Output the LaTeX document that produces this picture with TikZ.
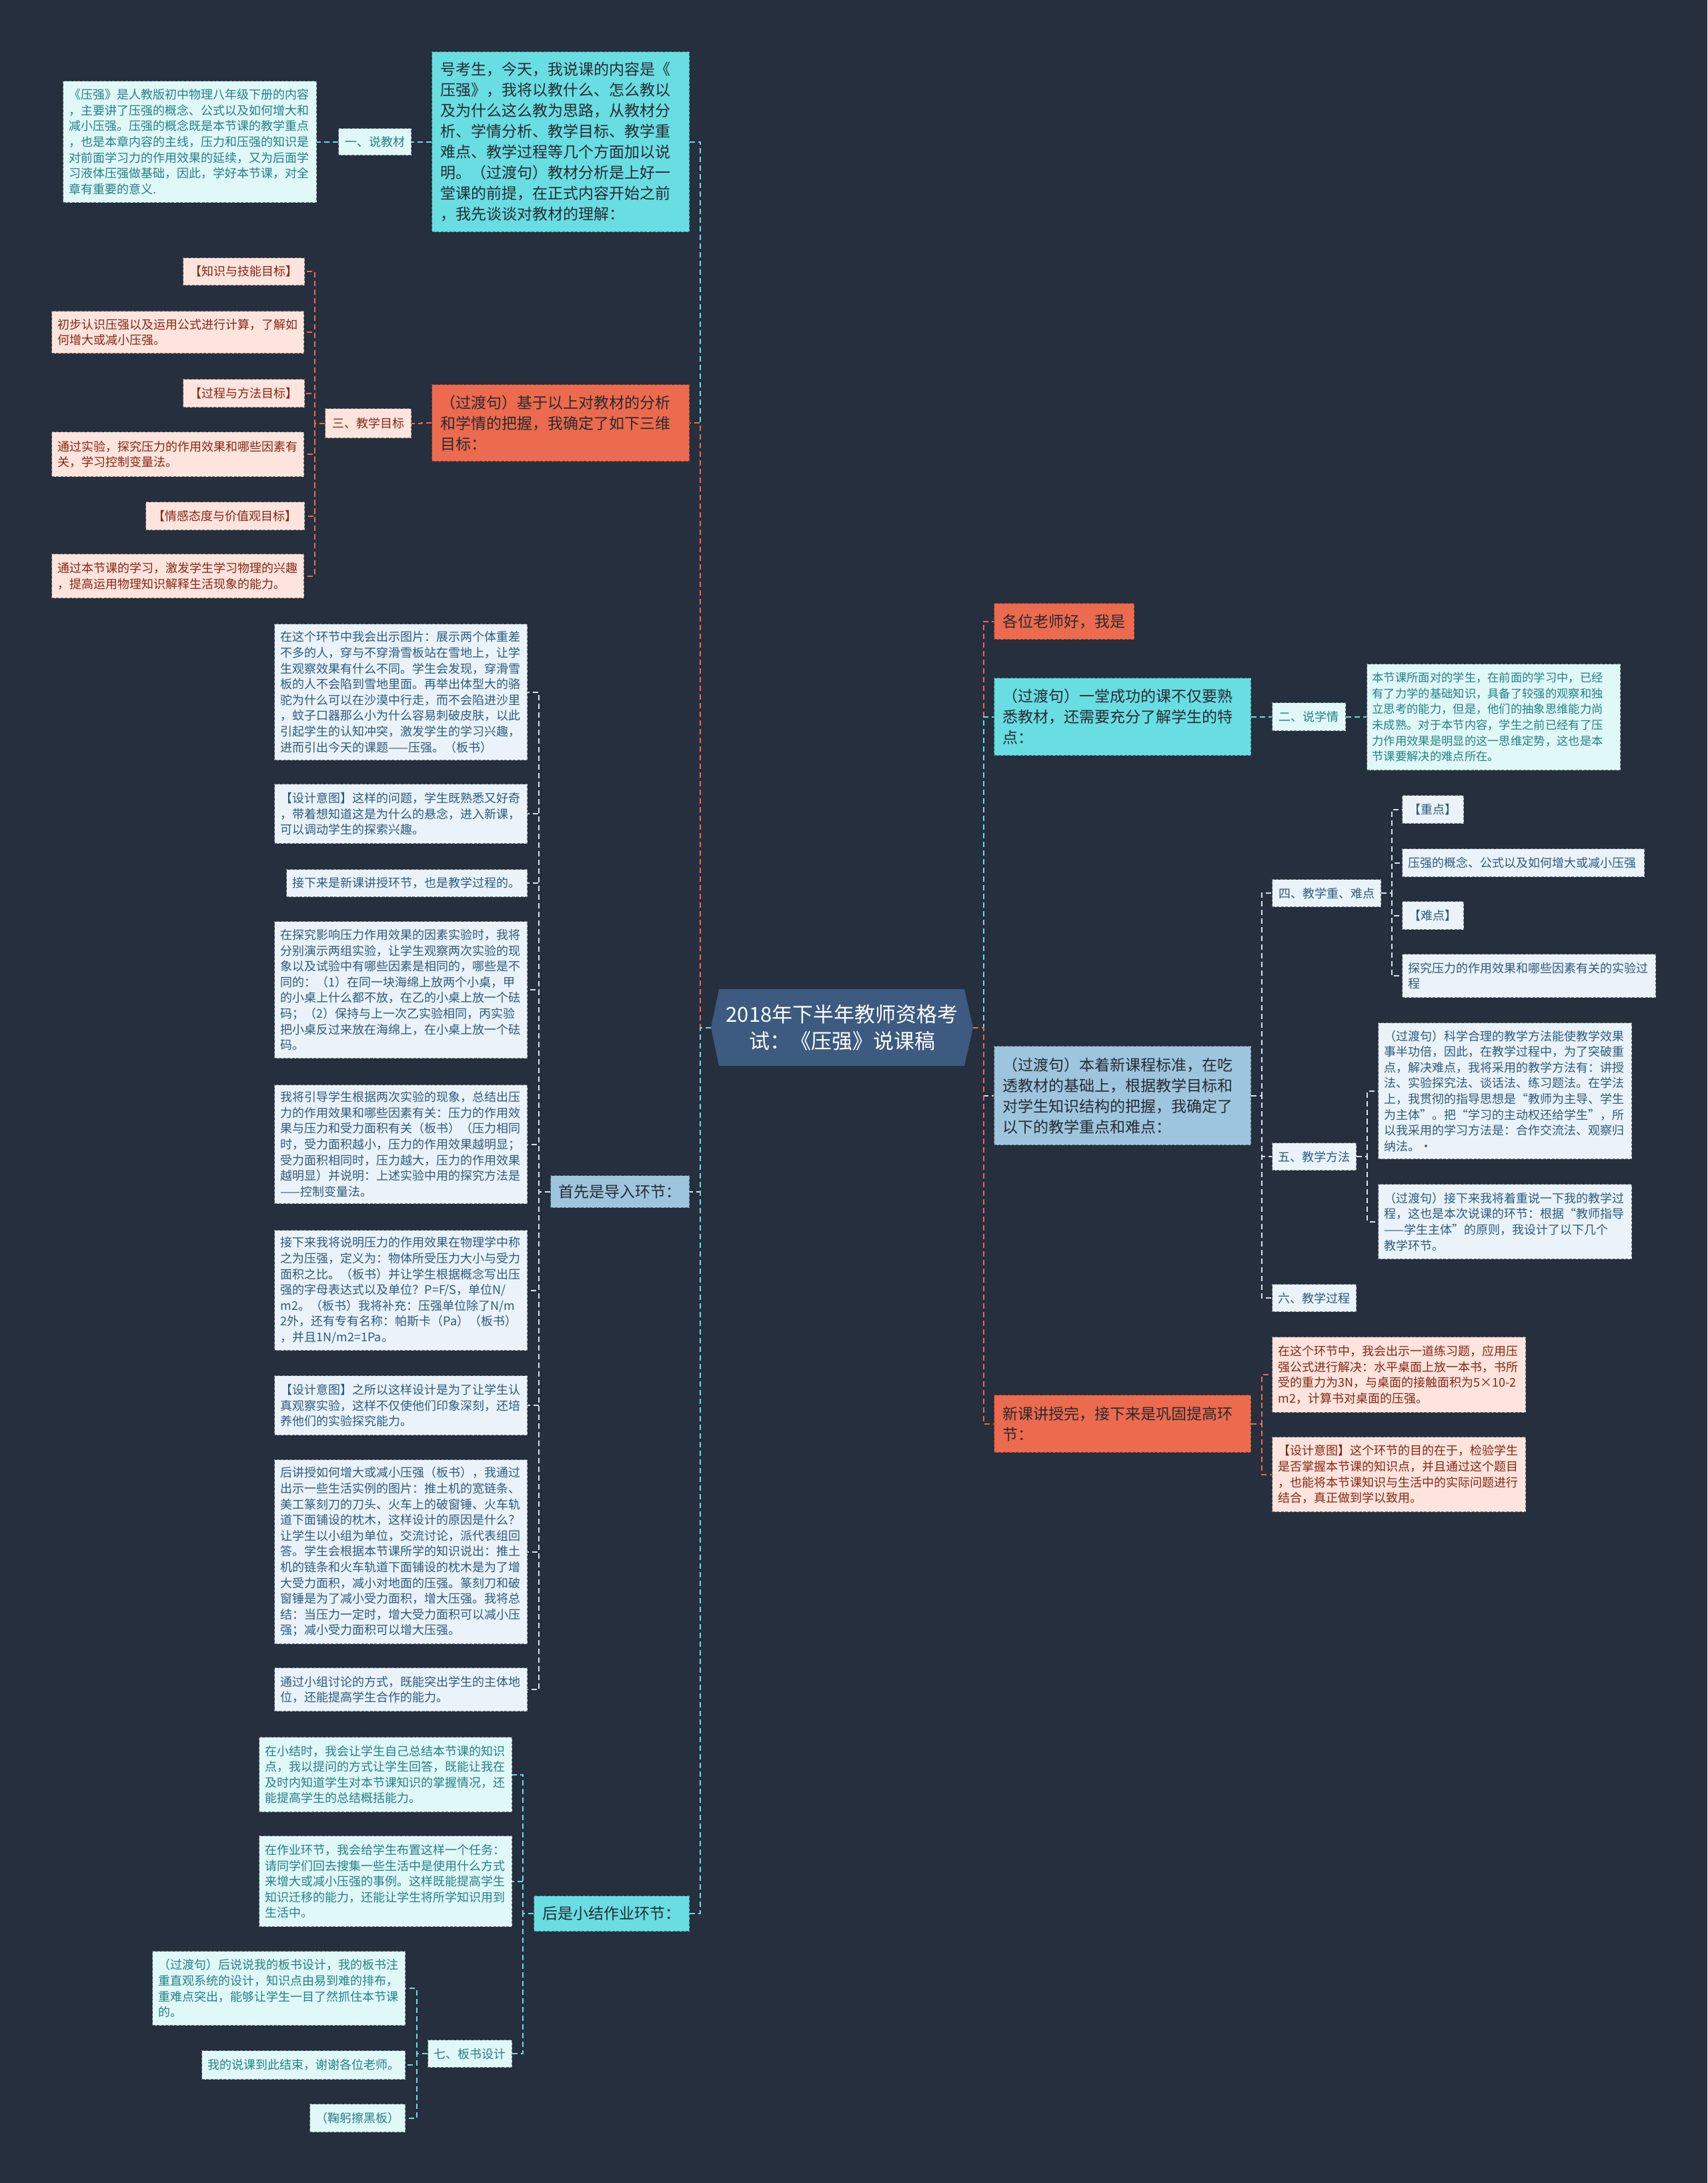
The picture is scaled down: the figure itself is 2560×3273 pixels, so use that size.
\documentclass[tikz,border=0pt]{standalone}
\usepackage{fontspec}
\setmainfont{Noto Sans CJK SC}
\usetikzlibrary{calc}
\definecolor{bg}{RGB}{38,47,62}
\definecolor{titleF}{RGB}{61,90,128}
\definecolor{cM}{RGB}{104,221,226}
\definecolor{cL}{RGB}{224,248,248}
\definecolor{cT}{RGB}{36,128,134}
\definecolor{oM}{RGB}{236,106,77}
\definecolor{pL}{RGB}{253,228,220}
\definecolor{pT}{RGB}{135,38,20}
\definecolor{bM}{RGB}{158,197,222}
\definecolor{bL}{RGB}{234,243,249}
\definecolor{bT}{RGB}{45,90,128}
\definecolor{dT}{RGB}{40,42,50}
\definecolor{lW}{RGB}{215,228,240}
\tikzset{
  base/.style={anchor=north west, align=left, inner ysep=0pt, line width=1.3pt, dash pattern=on 4pt off 2.5pt},
  big/.style={base, inner xsep=13pt, font=\fontsize{23}{31}\selectfont},
  small/.style={base, inner xsep=9pt, font=\fontsize{18}{23.6}\selectfont},
  lab/.style={anchor=north west, align=center, inner sep=0pt, line width=1.3pt, dash pattern=on 4pt off 2.5pt, font=\fontsize{18}{22}\selectfont},
  cyanM/.style={fill=cM, draw=cM!55!black, text=dT},
  cyanL/.style={fill=cL, draw=cL!50!black, text=cT},
  orM/.style={fill=oM, draw=oM!55!black, text=dT},
  pinkL/.style={fill=pL, draw=pL!50!black, text=pT},
  bluM/.style={fill=bM, draw=bM!55!black, text=dT},
  bluL/.style={fill=bL, draw=bL!50!black, text=bT},
  lk/.style={line width=2pt, dash pattern=on 8pt off 5pt},
  lkc/.style={lk, draw=cM},
  lko/.style={lk, draw=oM},
  lkw/.style={lk, draw=lW},
}
\newcommand{\lnkL}[3]{\draw[#1] (#2.west) -| ($(#2.west)!.5!(#3.east)$) |- (#3.east);}
\newcommand{\lnkR}[3]{\draw[#1] (#2.east) -| ($(#2.east)!.5!(#3.west)$) |- (#3.west);}
\begin{document}
\begin{tikzpicture}[x=1pt,y=-1pt]
\fill[bg] (0,0) rectangle (2560,3273);
\useasboundingbox (0,0) rectangle (2560,3273);

% title
\fill[titleF] (1078,1483) -- (1446,1483) -- (1459,1540.5) -- (1446,1598) -- (1078,1598) -- (1066,1540.5) -- cycle;
\node[align=center, inner sep=0pt, minimum width=393pt, minimum height=115pt, text=white, font=\fontsize{31}{40}\selectfont] (C) at (1262.5,1540.5) {2018年下半年教师资格考\\试：《压强》说课稿};

% ---------- left branch 1
\node[big, cyanM, text width=360pt, minimum height=270pt] (L1) at (647,77) {号考生，今天，我说课的内容是《\\压强》，我将以教什么、怎么教以\\及为什么这么教为思路，从教材分\\析、学情分析、教学目标、教学重\\难点、教学过程等几个方面加以说\\明。（过渡句）教材分析是上好一\\堂课的前提，在正式内容开始之前\\，我先谈谈对教材的理解：};
\node[lab, cyanL, minimum width=109pt, minimum height=40pt] (L1a) at (507,192) {一、说教材};
\node[small, cyanL, text width=362pt, minimum height=182pt] (L1b) at (94,121) {《压强》是人教版初中物理八年级下册的内容\\，主要讲了压强的概念、公式以及如何增大和\\减小压强。压强的概念既是本节课的教学重点\\，也是本章内容的主线，压力和压强的知识是\\对前面学习力的作用效果的延续，又为后面学\\习液体压强做基础，因此，学好本节课，对全\\章有重要的意义.};

% ---------- left branch 2
\node[big, orM, text width=360pt, minimum height=115pt] (L2) at (647,576) {（过渡句）基于以上对教材的分析\\和学情的把握，我确定了如下三维\\目标：};
\node[lab, pinkL, minimum width=129pt, minimum height=44pt] (L2a) at (487,612) {三、教学目标};
\node[lab, pinkL, minimum width=182pt, minimum height=41pt] (G1) at (274,386) {【知识与技能目标】};
\node[small, pinkL, text width=360pt, minimum height=63pt] (G2) at (77,466) {初步认识压强以及运用公式进行计算，了解如\\何增大或减小压强。};
\node[lab, pinkL, minimum width=182pt, minimum height=42pt] (G3) at (274,568) {【过程与方法目标】};
\node[small, pinkL, text width=360pt, minimum height=67pt] (G4) at (77,647) {通过实验，探究压力的作用效果和哪些因素有\\关，学习控制变量法。};
\node[lab, pinkL, minimum width=238pt, minimum height=42pt] (G5) at (218,752) {【情感态度与价值观目标】};
\node[small, pinkL, text width=360pt, minimum height=66pt] (G6) at (77,830) {通过本节课的学习，激发学生学习物理的兴趣\\，提高运用物理知识解释生活现象的能力。};

% ---------- left branch 3
\node[lab, bluM, text=dT, minimum width=208pt, minimum height=48pt, font=\fontsize{23}{28}\selectfont] (L3) at (825,1762) {首先是导入环节：};
\node[small, bluL, text width=361pt, minimum height=204pt] (D1) at (411,935) {在这个环节中我会出示图片：展示两个体重差\\不多的人，穿与不穿滑雪板站在雪地上，让学\\生观察效果有什么不同。学生会发现，穿滑雪\\板的人不会陷到雪地里面。再举出体型大的骆\\驼为什么可以在沙漠中行走，而不会陷进沙里\\，蚊子口器那么小为什么容易刺破皮肤，以此\\引起学生的认知冲突，激发学生的学习兴趣，\\进而引出今天的课题——压强。（板书）};
\node[small, bluL, text width=361pt, minimum height=89pt] (D2) at (411,1175) {【设计意图】这样的问题，学生既熟悉又好奇\\，带着想知道这是为什么的悬念，进入新课，\\可以调动学生的探索兴趣。};
\node[small, bluL, text width=343pt, minimum height=41pt] (D3) at (429,1303) {接下来是新课讲授环节，也是教学过程的。};
\node[small, bluL, text width=361pt, minimum height=205pt] (D4) at (411,1381) {在探究影响压力作用效果的因素实验时，我将\\分别演示两组实验，让学生观察两次实验的现\\象以及试验中有哪些因素是相同的，哪些是不\\同的：（1）在同一块海绵上放两个小桌，甲\\的小桌上什么都不放，在乙的小桌上放一个砝\\码；（2）保持与上一次乙实验相同，丙实验\\把小桌反过来放在海绵上，在小桌上放一个砝\\码。};
\node[small, bluL, text width=361pt, minimum height=178pt] (D5) at (411,1626) {我将引导学生根据两次实验的现象，总结出压\\力的作用效果和哪些因素有关：压力的作用效\\果与压力和受力面积有关（板书）（压力相同\\时，受力面积越小，压力的作用效果越明显；\\受力面积相同时，压力越大，压力的作用效果\\越明显）并说明：上述实验中用的探究方法是\\——控制变量法。};
\node[small, bluL, text width=361pt, minimum height=180pt] (D6) at (411,1844) {接下来我将说明压力的作用效果在物理学中称\\之为压强，定义为：物体所受压力大小与受力\\面积之比。（板书）并让学生根据概念写出压\\强的字母表达式以及单位？P=F/S，单位N/\\m2。（板书）我将补充：压强单位除了N/m\\2外，还有专有名称：帕斯卡（Pa）（板书）\\，并且1N/m2=1Pa。};
\node[small, bluL, text width=361pt, minimum height=89pt] (D7) at (411,2062) {【设计意图】之所以这样设计是为了让学生认\\真观察实验，这样不仅使他们印象深刻，还培\\养他们的实验探究能力。};
\node[small, bluL, text width=361pt, minimum height=276pt] (D8) at (411,2188) {后讲授如何增大或减小压强（板书），我通过\\出示一些生活实例的图片：推土机的宽链条、\\美工篆刻刀的刀头、火车上的破窗锤、火车轨\\道下面铺设的枕木，这样设计的原因是什么？\\让学生以小组为单位，交流讨论，派代表组回\\答。学生会根据本节课所学的知识说出：推土\\机的链条和火车轨道下面铺设的枕木是为了增\\大受力面积，减小对地面的压强。篆刻刀和破\\窗锤是为了减小受力面积，增大压强。我将总\\结：当压力一定时，增大受力面积可以减小压\\强；减小受力面积可以增大压强。};
\node[small, bluL, text width=361pt, minimum height=65pt] (D9) at (411,2500) {通过小组讨论的方式，既能突出学生的主体地\\位，还能提高学生合作的能力。};

% ---------- left branch 4
\node[lab, cyanM, text=dT, minimum width=233pt, minimum height=53pt, font=\fontsize{23}{28}\selectfont] (L4) at (800,2842) {后是小结作业环节：};
\node[small, cyanL, text width=361pt, minimum height=112pt] (E1) at (388,2604) {在小结时，我会让学生自己总结本节课的知识\\点，我以提问的方式让学生回答，既能让我在\\及时内知道学生对本节课知识的掌握情况，还\\能提高学生的总结概括能力。};
\node[small, cyanL, text width=361pt, minimum height=136pt] (E2) at (388,2752) {在作业环节，我会给学生布置这样一个任务：\\请同学们回去搜集一些生活中是使用什么方式\\来增大或减小压强的事例。这样既能提高学生\\知识迁移的能力，还能让学生将所学知识用到\\生活中。};
\node[lab, cyanL, minimum width=126pt, minimum height=41pt] (E3) at (641,3058) {七、板书设计};
\node[small, cyanL, text width=361pt, minimum height=111pt] (F1) at (228,2925) {（过渡句）后说说我的板书设计，我的板书注\\重直观系统的设计，知识点由易到难的排布，\\重难点突出，能够让学生一目了然抓住本节课\\的。};
\node[lab, cyanL, minimum width=305pt, minimum height=43pt] (F2) at (302,3074) {我的说课到此结束，谢谢各位老师。};
\node[lab, cyanL, minimum width=143pt, minimum height=42pt] (F3) at (464,3154) {（鞠躬擦黑板）};

% ---------- right branch 1
\node[lab, orM, text=dT, minimum width=210pt, minimum height=54pt, font=\fontsize{23}{28}\selectfont] (R1) at (1490,904) {各位老师好，我是};

% ---------- right branch 2
\node[big, cyanM, text width=359pt, minimum height=116pt] (R2) at (1490,1016) {（过渡句）一堂成功的课不仅要熟\\悉教材，还需要充分了解学生的特\\点：};
\node[lab, cyanL, minimum width=110pt, minimum height=42pt] (R2a) at (1907,1053) {二、说学情};
\node[small, cyanL, text width=364pt, minimum height=159pt, inner xsep=8pt, font=\fontsize{17.3}{23.6}\selectfont] (R2b) at (2049,995) {本节课所面对的学生，在前面的学习中，已经\\有了力学的基础知识，具备了较强的观察和独\\立思考的能力，但是，他们的抽象思维能力尚\\未成熟。对于本节内容，学生之前已经有了压\\力作用效果是明显的这一思维定势，这也是本\\节课要解决的难点所在。};

% ---------- right branch 3
\node[big, bluM, text width=359pt, minimum height=148pt] (R3) at (1490,1568) {（过渡句）本着新课程标准，在吃\\透教材的基础上，根据教学目标和\\对学生知识结构的把握，我确定了\\以下的教学重点和难点：};
\node[lab, bluL, minimum width=163pt, minimum height=41pt] (K4) at (1907,1318) {四、教学重、难点};
\node[lab, bluL, minimum width=92pt, minimum height=42pt] (K41) at (2102,1192) {【重点】};
\node[small, bluL, text width=345pt, minimum height=42pt] (K42) at (2102,1272) {压强的概念、公式以及如何增大或减小压强};
\node[lab, bluL, minimum width=92pt, minimum height=42pt] (K43) at (2102,1351) {【难点】};
\node[small, bluL, text width=362pt, minimum height=65pt] (K44) at (2102,1430) {探究压力的作用效果和哪些因素有关的实验过\\程};
\node[lab, bluL, minimum width=126pt, minimum height=41pt] (K5) at (1907,1713) {五、教学方法};
\node[small, bluL, text width=362pt, minimum height=204pt] (K51) at (2066,1533) {（过渡句）科学合理的教学方法能使教学效果\\事半功倍，因此，在教学过程中，为了突破重\\点，解决难点，我将采用的教学方法有：讲授\\法、实验探究法、谈话法、练习题法。在学法\\上，我贯彻的指导思想是“教师为主导、学生\\为主体”。把“学习的主动权还给学生”，所\\以我采用的学习方法是：合作交流法、观察归\\纳法。·};
\node[small, bluL, text width=362pt, minimum height=112pt] (K52) at (2066,1775) {（过渡句）接下来我将着重说一下我的教学过\\程，这也是本次说课的环节：根据“教师指导\\——学生主体”的原则，我设计了以下几个\\教学环节。};
\node[lab, bluL, minimum width=126pt, minimum height=41pt] (K6) at (1907,1925) {六、教学过程};

% ---------- right branch 4
\node[big, orM, text width=359pt, minimum height=86pt] (R4) at (1490,2091) {新课讲授完，接下来是巩固提高环\\节：};
\node[small, pinkL, text width=362pt, minimum height=113pt] (P1) at (1907,2004) {在这个环节中，我会出示一道练习题，应用压\\强公式进行解决：水平桌面上放一本书，书所\\受的重力为3N，与桌面的接触面积为5×10-2\\m2，计算书对桌面的压强。};
\node[small, pinkL, text width=362pt, minimum height=112pt] (P2) at (1907,2154) {【设计意图】这个环节的目的在于，检验学生\\是否掌握本节课的知识点，并且通过这个题目\\，也能将本节课知识与生活中的实际问题进行\\结合，真正做到学以致用。};

% ---------- connectors
\lnkL{lkc}{C}{L1}
\lnkL{lko}{C}{L2}
\lnkL{lkw}{C}{L3}
\lnkL{lkc}{C}{L4}
\lnkL{lkc}{L1}{L1a}
\lnkL{lkc}{L1a}{L1b}
\lnkL{lko}{L2}{L2a}
\foreach \g in {G1,G2,G3,G4,G5,G6} {\lnkL{lko}{L2a}{\g}}
\foreach \g in {D1,D2,D3,D4,D5,D6,D7,D8,D9} {\lnkL{lkw}{L3}{\g}}
\foreach \g in {E1,E2,E3} {\lnkL{lkc}{L4}{\g}}
\foreach \g in {F1,F2,F3} {\lnkL{lkc}{E3}{\g}}

\lnkR{lko}{C}{R1}
\lnkR{lkc}{C}{R2}
\lnkR{lkw}{C}{R3}
\lnkR{lko}{C}{R4}
\lnkR{lkc}{R2}{R2a}
\lnkR{lkc}{R2a}{R2b}
\foreach \g in {K4,K5,K6} {\lnkR{lkw}{R3}{\g}}
\foreach \g in {K41,K42,K43,K44} {\lnkR{lkw}{K4}{\g}}
\foreach \g in {K51,K52} {\lnkR{lkw}{K5}{\g}}
\foreach \g in {P1,P2} {\lnkR{lko}{R4}{\g}}
\end{tikzpicture}
\end{document}
